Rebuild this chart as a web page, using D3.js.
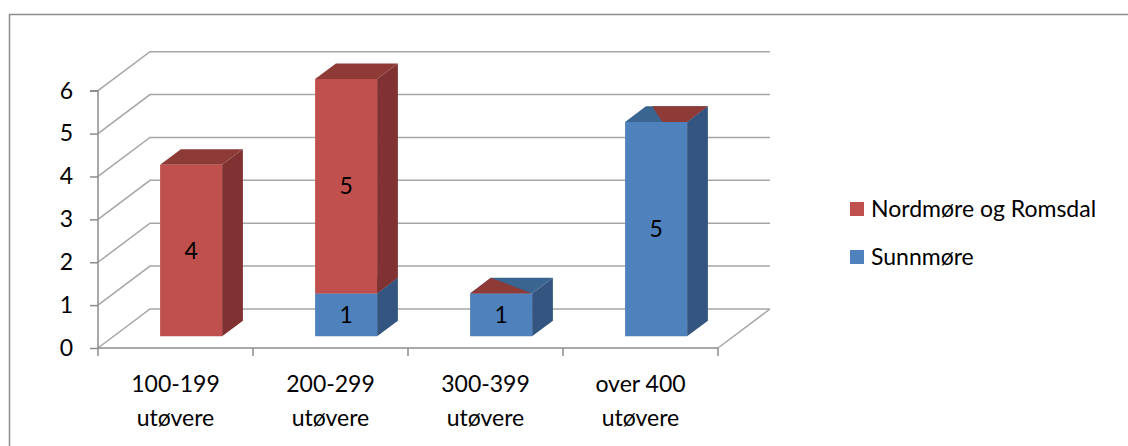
<!DOCTYPE html>
<html>
<head>
<meta charset="utf-8">
<script src="https://cdn.jsdelivr.net/npm/d3@7"></script>
<style>
  body { margin: 0; background: #fff; }
  svg { display: block; font-family: Lato, "Liberation Sans", sans-serif; }
</style>
</head>
<body>
<svg id="chart"></svg>
<script>
// data
const categories = ["100-199 utøvere", "200-299 utøvere", "300-399 utøvere", "over 400 utøvere"]
const sunnmore = [0, 1, 1, 5]
const nordmore = [4, 5, 0, 0]
const seriesNames = ["Nordmøre og Romsdal", "Sunnmøre"]
const yTicks = [0, 1, 2, 3, 4, 5, 6]

var width = 1128
var height = 446
var fontSize = 23

// colours: front, side, top
var colRed = {front: "#c0504d", side: "#7f3231", top: "#8e3a37"}
var colBlue = {front: "#4f81bd", side: "#34557f", top: "#3b6591"}

var svg = d3.select("#chart")
	.attr("width", width)
	.attr("height", height)

// outer border
svg.append("rect")
	.attr("x", 9.5).attr("y", 14.5)
	.attr("width", 1130).attr("height", 440)
	.attr("fill", "none")
	.attr("stroke", "#8c8c8c")
	.attr("stroke-width", 1.5)

var x = d3.scaleBand()
	.domain(categories)
	.range([98, 718])

var y = d3.scaleLinear()
	.domain([0, 6])
	.range([348, 90.7])

// depth projection: d in [0,1] goes back/up-right
var depthX = 52, depthY = -39
function p(px, py, d) { return [px + depthX * d, py + depthY * d] }

var grid = svg.append("g")
	.attr("fill", "none")
	.attr("stroke", "#a6a6a6")
	.attr("stroke-width", 1.5)

yTicks.forEach(v => {
	var a = p(x.range()[0], y(v), 0)
	var b = p(x.range()[0], y(v), 1)
	var c = p(x.range()[1], y(v), 1)
	grid.append("path").attr("d", d3.line()([a, b, c]))
})
// right floor edge
grid.append("path").attr("d", d3.line()([p(x.range()[1], y(0), 0), p(x.range()[1], y(0), 1)]))

// axes
var axisCol = "#8c8c8c"
var yAxis = svg.append("g").attr("transform", `translate(${x.range()[0]},0)`)
	.call(d3.axisLeft(y).tickValues(yTicks).tickSize(8).tickFormat(d3.format("d")))
yAxis.selectAll("line, path").attr("stroke", axisCol).attr("stroke-width", 1.5)
yAxis.select(".domain").attr("d", `M-8,${y(6)}H0V${y(0)}`)
yAxis.selectAll("text")
	.attr("x", -25)
	.attr("font-size", fontSize)
	.attr("font-family", "Lato, sans-serif")
	.attr("fill", "#000")

var xAxis = svg.append("g").attr("transform", `translate(0,${y(0)})`)
xAxis.append("path")
	.attr("d", `M${x.range()[0]},0H${x.range()[1]}`)
	.attr("stroke", axisCol).attr("stroke-width", 1.5)
var bounds = categories.map(c => x(c)).concat([x.range()[1]])
xAxis.selectAll(".tk").data(bounds).join("line")
	.attr("x1", d => d).attr("x2", d => d)
	.attr("y1", 0).attr("y2", 8)
	.attr("stroke", axisCol).attr("stroke-width", 1.5)

categories.forEach(c => {
	var words = c.split(" ")
	var lines = [words.slice(0, words.length - 1).join(" "), words[words.length - 1]]
	lines.forEach((t, i) => {
		svg.append("text")
			.attr("x", x(c) + x.bandwidth() / 2)
			.attr("y", 384 + i * 34)
			.attr("dy", "0.35em")
			.attr("text-anchor", "middle")
			.attr("font-size", fontSize)
			.text(t)
	})
})

// bars
var barW = x.bandwidth() * 0.4
var d0 = 0.3, d1 = 0.7

function drawBox(g, cx, v0, v1, col) {
	var xl = cx - barW / 2, xr = cx + barW / 2
	var yb = y(v0), yt = y(v1)
	var FL = p(xl, yt, d0), FR = p(xr, yt, d0), BL = p(xl, yt, d1), BR = p(xr, yt, d1)
	var FRb = p(xr, yb, d0), BRb = p(xr, yb, d1)
	var FLb = p(xl, yb, d0)
	g.append("path").attr("d", d3.line()([FR, BR, BRb, FRb]) + "Z").attr("fill", col.side)
	g.append("path").attr("d", d3.line()([FL, BL, BR, FR]) + "Z").attr("fill", col.top)
	g.append("path").attr("d", d3.line()([FLb, FL, FR, FRb]) + "Z").attr("fill", col.front)
	return {FL, FR, BL, BR}
}

var bars = svg.append("g")
categories.forEach((c, i) => {
	var cx = x(c) + x.bandwidth() / 2
	var s = sunnmore[i], n = nordmore[i]
	var g = bars.append("g")
	var top
	if (s > 0) top = drawBox(g, cx, 0, s, colBlue)
	if (n > 0) top = drawBox(g, cx, s, s + n, colRed)
	else {
		// zero-height segment shows as a sliver of red on the cap
		var f = i == 2 ? 1 : 0.6
		var pts = i == 2
			? [top.FL, top.BL, top.FR]
			: [[top.BL[0] + (top.BR[0] - top.BL[0]) * 0.1, top.BL[1]], top.BR, top.FR,
			   [top.FL[0] + (top.FR[0] - top.FL[0]) * f, top.FL[1]]]
		g.append("path").attr("d", d3.line()(pts) + "Z").attr("fill", colRed.top)
	}
	// value labels
	;[[0, s], [s, s + n]].forEach(([a, b]) => {
		if (b - a <= 0) return
		var pt = p(cx, (y(a) + y(b)) / 2, d0)
		g.append("text")
			.attr("x", pt[0]).attr("y", pt[1])
			.attr("dy", "0.35em")
			.attr("text-anchor", "middle")
			.attr("font-size", fontSize)
			.text(b - a)
	})
})

// legend
var legend = svg.append("g")
var legCols = [colRed.front, colBlue.front]
seriesNames.forEach((name, i) => {
	var ly = 209 + i * 48
	legend.append("rect")
		.attr("x", 850).attr("y", ly - 7)
		.attr("width", 14).attr("height", 14)
		.attr("fill", legCols[i])
	legend.append("text")
		.attr("x", 871).attr("y", ly)
		.attr("dy", "0.35em")
		.attr("font-size", fontSize)
		.text(name)
})
</script>
</body>
</html>
